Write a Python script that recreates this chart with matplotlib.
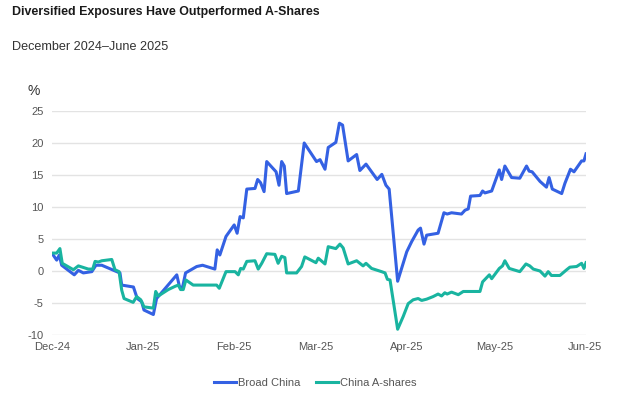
import matplotlib
matplotlib.use("Agg")
from matplotlib import pyplot as plt
import matplotlib.dates as mdates
import pandas as pd

start = pd.Timestamp("2024-12-01")

# cumulative return, % -- vertices (days after 1 Dec 2024)
days_broad = [0.4, 1.6, 2.5, 3.3, 7.6, 9.0, 10.7, 13.6, 15.0, 17.0, 22.1, 23.2, 23.8,
              27.8, 29.1, 30.6, 31.4, 34.6, 35.7, 42.6, 43.5, 44.5, 45.6, 49.4, 51.4,
              52.8, 55.6, 56.4, 57.3, 59.4, 62.2, 63.2, 64.2, 65.3, 66.5, 69.3, 70.2,
              71.2, 72.4, 73.3, 76.5, 77.5, 78.4, 79.3, 80.1, 84.1, 86.1, 90.3, 91.5,
              93.2, 94.3, 96.9, 98.1, 99.2, 101.1, 104.0, 105.1, 107.2, 111.0, 112.6,
              114.0, 115.1, 118.0, 121.1, 122.8, 125.0, 125.8, 127.0, 127.9, 131.8,
              133.8, 134.9, 136.4, 139.8, 141.0, 142.1, 142.9, 146.1, 147.0, 147.8,
              150.1, 152.7, 153.5, 154.6, 156.9, 159.7, 162.0, 162.9, 163.9, 166.6,
              168.8, 169.7, 170.8, 174.0, 175.1, 177.0, 178.2, 180.8, 181.6, 182.3]
broad = [2.5, 1.7, 2.5, 0.9, -0.6, 0.1, -0.3, -0.1, 0.9, 0.9, -0.1, -0.3, -2.2,
         -2.5, -4.3, -4.8, -6.1, -6.8, -4.3, -0.6, -2.4, -2.7, -0.3, 0.7, 0.9,
         0.7, 0.3, 3.3, 2.5, 5.4, 7.2, 5.9, 8.5, 8.3, 12.8, 12.9, 14.3,
         13.8, 12.4, 17.1, 15.5, 13.4, 17.1, 16.4, 12.1, 12.5, 20.0, 17.1, 17.4,
         15.9, 19.3, 20.1, 23.1, 22.8, 17.2, 18.2, 15.7, 16.7, 14.3, 15.1,
         13.4, 12.8, -1.6, 3.0, 4.6, 6.4, 6.7, 4.2, 5.6, 5.9,
         9.1, 8.9, 9.1, 8.9, 9.5, 9.7, 11.7, 11.8, 12.5, 12.2,
         12.5, 15.8, 14.3, 16.4, 14.6, 14.5, 16.4, 15.6, 15.5, 14.0,
         13.1, 14.6, 12.8, 12.1, 13.7, 15.9, 15.5, 17.2, 17.2, 18.3]

days_ashares = [0.4, 1.6, 2.7, 3.5, 7.3, 9.0, 12.4, 13.9, 14.7, 15.8, 17.0, 20.4, 21.5,
                22.9, 23.8, 24.6, 27.7, 28.9, 30.3, 31.4, 34.6, 35.4, 36.3, 39.7, 42.0,
                43.1, 43.9, 44.8, 45.7, 48.2, 56.2, 57.1, 59.4, 62.5, 63.6, 64.4, 65.3,
                66.5, 69.3, 70.4, 71.6, 73.3, 76.1, 77.2, 78.4, 79.5, 80.1, 83.5, 85.2,
                86.3, 90.1, 90.9, 93.2, 94.3, 96.9, 98.3, 99.4, 101.1, 104.0, 106.2,
                107.2, 109.1, 112.5, 113.7, 114.5, 115.4, 118.0, 119.9, 121.6, 123.3,
                125.0, 126.2, 127.9, 130.1, 131.8, 133.0, 134.1, 134.9, 136.4, 138.7,
                140.4, 146.1, 147.0, 149.3, 150.1, 152.7, 153.8, 154.6, 156.1, 159.7,
                161.8, 163.1, 164.3, 166.6, 168.3, 169.4, 170.5, 173.4, 175.7, 176.8,
                179.1, 180.8, 181.6, 182.3]
ashares = [2.8, 2.8, 3.5, 1.2, 0.2, 0.8, 0.3, 0.3, 1.5, 1.4, 1.6, 1.8, 0.2,
           -0.1, -3.0, -4.3, -4.9, -4.0, -4.5, -5.6, -5.8, -3.2, -3.9, -2.9, -2.4,
           -2.2, -2.9, -2.9, -1.4, -2.2, -2.2, -2.7, -0.1, -0.1, -0.6, 0.4, 0.3,
           1.5, 1.6, 0.3, 1.2, 2.7, 2.6, 1.2, 2.3, 2.1, -0.3, -0.3, 0.7,
           2.2, 1.3, 2.0, 1.1, 3.8, 3.5, 4.2, 3.6, 1.1, 1.6, 0.8,
           1.2, 0.4, -0.1, -0.3, -1.3, -1.4, -9.1, -7.1, -5.1, -4.5,
           -4.3, -4.6, -4.4, -4.0, -3.6, -3.9, -3.4, -3.6, -3.3, -3.7,
           -3.2, -3.2, -1.7, -0.6, -1.2, 0.4, 0.8, 1.6, 0.4, -0.1,
           1.1, 0.8, 0.3, 0.0, -0.8, -0.1, -0.7, -0.7, 0.2, 0.6,
           0.7, 1.2, 0.4, 1.3]

yticks = [-10, -5, 0, 5, 10, 15, 20, 25]
month_ticks = ["2024-12-01", "2025-01-01", "2025-02-01", "2025-03-01",
               "2025-04-01", "2025-05-01", "2025-06-01"]

dates_broad = start + pd.to_timedelta(days_broad, unit="D")
dates_ashares = start + pd.to_timedelta(days_ashares, unit="D")

plt.rcParams["font.family"] = ["Liberation Sans", "DejaVu Sans"]
plt.rcParams["axes.unicode_minus"] = False

fig = plt.figure(figsize=(6.24, 3.96), dpi=100)
ax = fig.add_axes([52 / 624, 1 - 335 / 396, 534 / 624, 224 / 396])

ax.plot(dates_broad, broad, color="#3461E3", lw=2.2, label="Broad China",
        solid_joinstyle="round")
ax.plot(dates_ashares, ashares, color="#19B4A0", lw=2.2, label="China A-shares",
        solid_joinstyle="round")

ax.set_ylim(-10, 25)
ax.set_yticks(yticks)
ax.set_xlim(min(dates_broad), max(dates_broad))
ax.set_xticks(pd.to_datetime(month_ticks))
ax.xaxis.set_major_formatter(mdates.DateFormatter("%b-%y"))
ax.grid(axis="y", color="#e3e3e3", lw=1)
ax.set_axisbelow(True)
for s in ax.spines.values():
    s.set_visible(False)
ax.tick_params(length=0, labelsize=8, labelcolor="#555555")
ax.tick_params(axis="y", pad=6)
ax.tick_params(axis="x", pad=5)

fig.text(12 / 624, 1 - 15 / 396, "Diversified Exposures Have Outperformed A-Shares",
         fontsize=8.9, fontweight="bold", color="#1a1a1a")
fig.text(12 / 624, 1 - 50 / 396, "December 2024\u2013June 2025",
         fontsize=9.1, color="#333333")
fig.text(27 / 624, 1 - 95 / 396, "%", fontsize=10, color="#333333")

fig.legend(loc="center", bbox_to_anchor=(0.505, 1 - 383 / 396), ncol=2, frameon=False,
           fontsize=8, labelcolor="#555555", handlelength=2.0, handletextpad=0.15,
           columnspacing=1.4)

plt.savefig("out.png", dpi=100)
